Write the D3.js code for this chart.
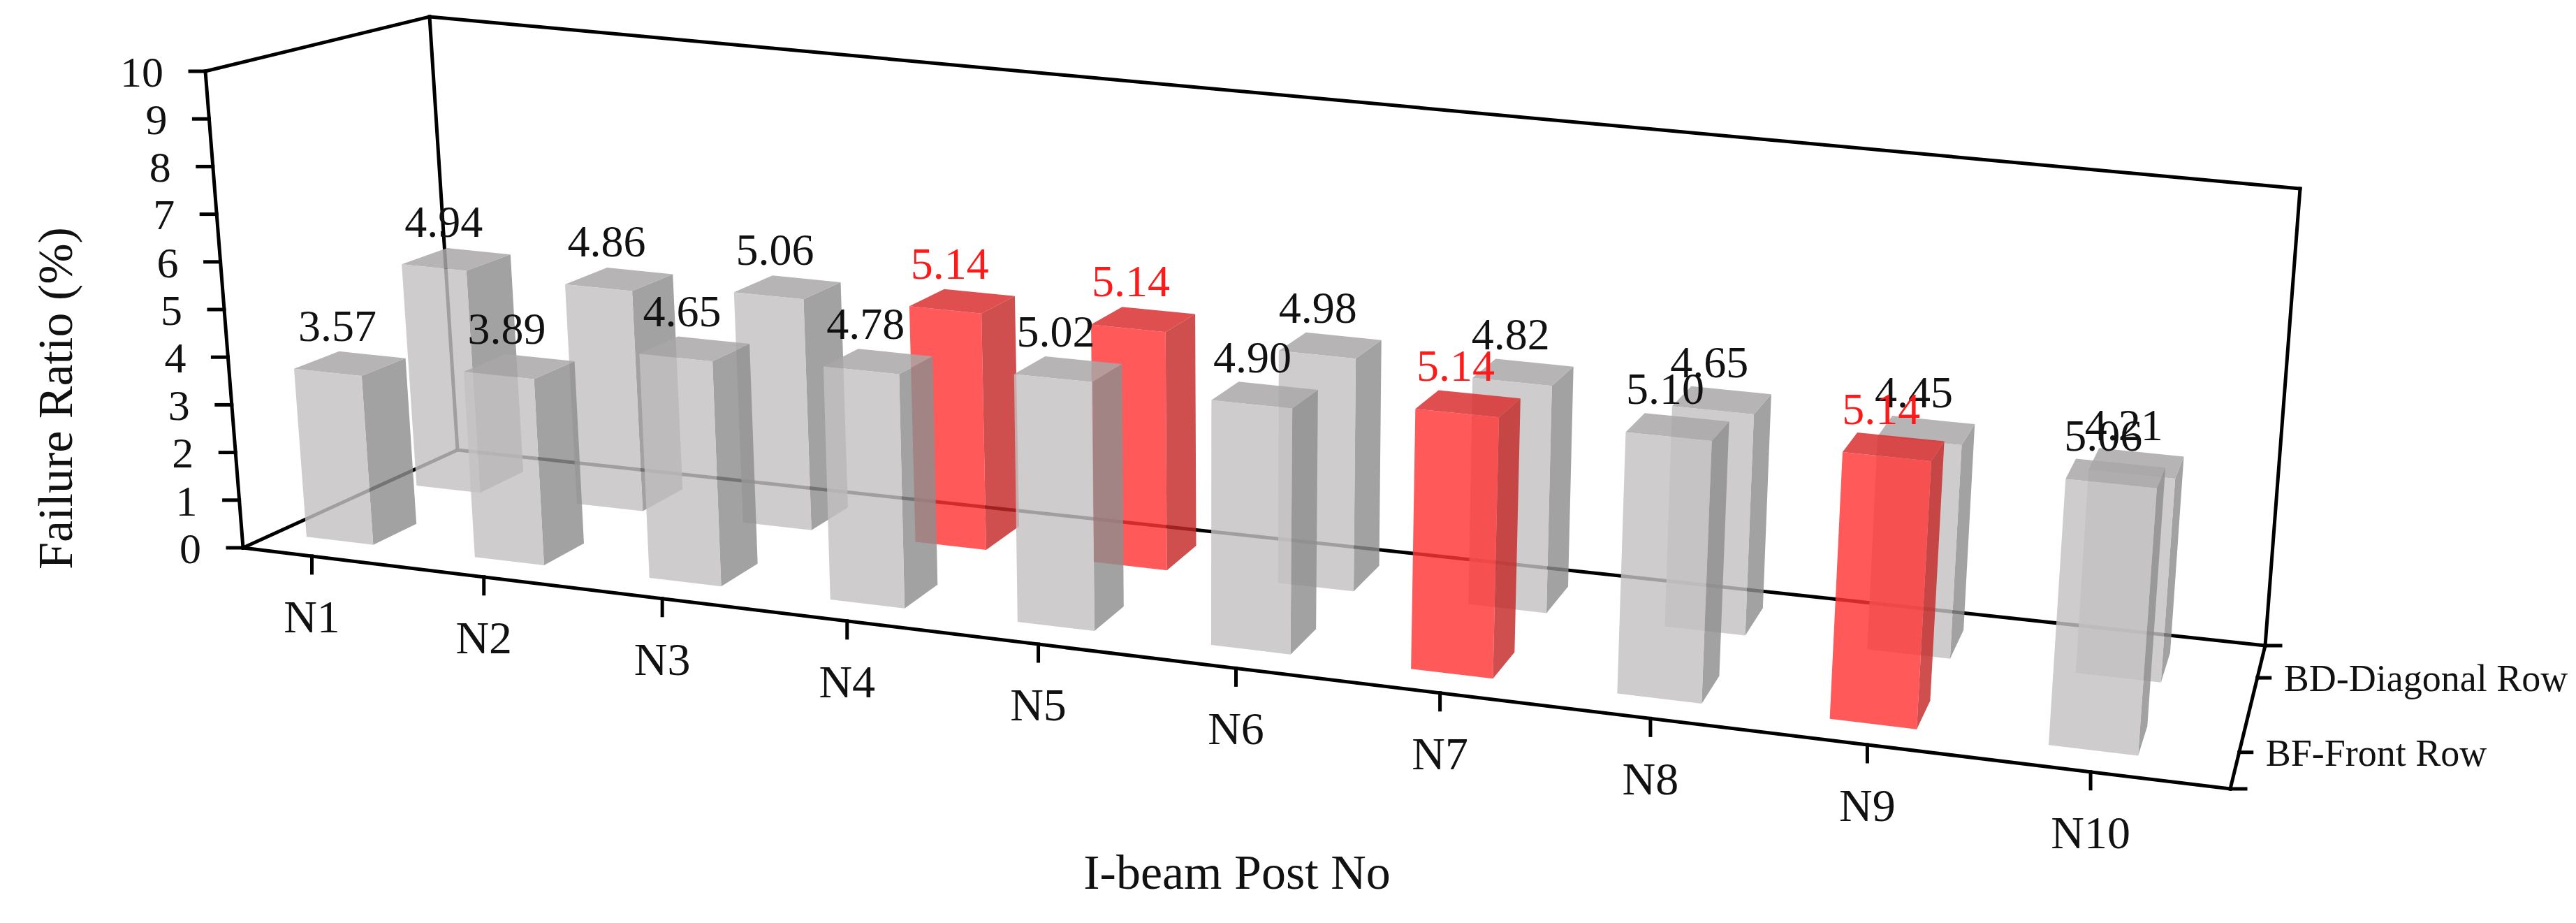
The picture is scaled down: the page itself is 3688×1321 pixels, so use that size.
<!DOCTYPE html>
<html><head><meta charset="utf-8">
<script src="https://cdn.jsdelivr.net/npm/d3@7"></script>
<style>body{margin:0;background:#fff}svg{display:block}text{font-family:"Liberation Serif","Times New Roman",serif;fill:#111}</style>
</head><body><svg id="c" width="3688" height="1321"></svg>
<script>
const categories = ["N1","N2","N3","N4","N5","N6","N7","N8","N9","N10"];
const rows = ["BF-Front Row","BD-Diagonal Row"];
const frontValues = [3.57,3.89,4.65,4.78,5.02,4.90,5.14,5.10,5.14,5.06];
const backValues  = [4.94,4.86,5.06,5.14,5.14,4.98,4.82,4.65,4.45,4.21];
const frontLabels = ["3.57","3.89","4.65","4.78","5.02","4.90","5.14","5.10","5.14","5.06"];
const backLabels  = ["4.94","4.86","5.06","5.14","5.14","4.98","4.82","4.65","4.45","4.21"];
const frontHighlight = [false,false,false,false,false,false,true,false,true,false];
const backHighlight  = [false,false,false,true,true,false,false,false,false,false];
const yTicks = [0,1,2,3,4,5,6,7,8,9,10];

const svg = d3.select("#c");
const FL=[348,784], FR=[3193,1129], BL=[655,644], BR=[3243,924];
const VFL=[-5.4,-68.2], VFR=[6,-78], VBL=[-4,-62], VBR=[5,-65.4];
const yScale = d3.scaleLinear().domain([0,10]).range([0,10]);
const cat = d3.scalePoint().domain(categories).range([0.041,0.939]);
const rowZ = d3.scaleOrdinal().domain(rows).range([[0.15,0.36],[0.67,0.88]]);
const warp = u => u - 0.162*u*(1-u);
function bil(A,B,C,D,t,z){
  return [0,1].map(k => A[k]*(1-t)*(1-z)+B[k]*t*(1-z)+C[k]*(1-t)*z+D[k]*t*z);
}
function P(u,z,v){
  const t = warp(u);
  const b = bil(FL,FR,BL,BR,t,z), w = bil(VFL,VFR,VBL,VBR,t,z);
  const y = yScale(v);
  return [b[0]+w[0]*y, b[1]+w[1]*y];
}
const line = d3.line();
const poly = pts => line(pts)+"Z";
function seg(g,a,b,w){ g.append("path").attr("d",line([a,b])).attr("stroke","#000").attr("stroke-width",w||5).attr("fill","none").attr("stroke-linecap","square"); }

const gBack = svg.append("g");
seg(gBack,P(0,1,0),P(0,1,10));
seg(gBack,P(0,1,10),P(1,1,10));
seg(gBack,P(1,1,10),P(1,1,0));
seg(gBack,P(0,1,0),P(1,1,0));
seg(gBack,P(0,0,0),P(0,1,0));
seg(gBack,P(0,0,10),P(0,1,10));
seg(gBack,P(0,0,0),P(0,0,10));
yTicks.forEach(v=>{
  const p=P(0,0,v);
  seg(gBack,[p[0]-22,p[1]],p,5);
  svg.append("text").attr("x",p[0]-60).attr("y",p[1]).attr("dy","0.35em").attr("text-anchor","end").attr("font-size",62).text(v);
});

const colors = {
  grey:{front:"#c3c1c1",side:"#8f8d8d",top:"#a9a7a7"},
  red:{front:"#ff3535",side:"#c42828",top:"#d93030"}
};
const bw = 0.04;
function drawRow(values,labels,hl,row){
  const [z0,z1]=rowZ(row);
  const g = svg.append("g");
  categories.forEach((c,i)=>{
    const u0=cat(c)-0.022,u1=u0+bw,v=values[i];
    const col = hl[i]?colors.red:colors.grey;
    g.append("path").attr("d",poly([P(u1,z0,0),P(u1,z1,0),P(u1,z1,v),P(u1,z0,v)])).attr("fill",col.side).attr("fill-opacity",0.82);
    g.append("path").attr("d",poly([P(u0,z0,v),P(u1,z0,v),P(u1,z1,v),P(u0,z1,v)])).attr("fill",col.top).attr("fill-opacity",0.85);
    g.append("path").attr("d",poly([P(u0,z0,0),P(u1,z0,0),P(u1,z0,v),P(u0,z0,v)])).attr("fill",col.front).attr("fill-opacity",0.82);
    const lp = P((u0+u1)/2,(z0+z1)/2,v);
    svg.append("text").attr("x",lp[0]-18).attr("y",lp[1]-55).attr("dy","0.35em").attr("text-anchor","middle")
      .attr("font-size",64).style("fill",hl[i]?"#ff1a1a":"#111").text(labels[i]);
  });
}
drawRow(backValues,backLabels,backHighlight,rows[1]);
drawRow(frontValues,frontLabels,frontHighlight,rows[0]);

const gF = svg.append("g");
seg(gF,P(0,0,0),P(1,0,0));
seg(gF,P(1,0,0),P(1,1,0));
categories.forEach(c=>{
  const p=P(cat(c),0,0);
  seg(gF,p,[p[0],p[1]+24],5);
  svg.append("text").attr("x",p[0]).attr("y",p[1]+86).attr("dy","0.35em").attr("text-anchor","middle").attr("font-size",66).text(c);
});
[0,1].forEach(z=>{const p=P(1,z,0); seg(gF,p,[p[0]+22,p[1]],5);});
rows.forEach(r=>{
  const [z0,z1]=rowZ(r); const p=P(1,(z0+z1)/2,0);
  seg(gF,p,[p[0]+18,p[1]],5);
  svg.append("text").attr("x",p[0]+38).attr("y",p[1]).attr("dy","0.35em").attr("font-size",54).text(r);
});
svg.append("text").attr("transform","translate(78,570) rotate(-90)").attr("text-anchor","middle").attr("dy","0.35em").attr("font-size",70).text("Failure Ratio (%)");
svg.append("text").attr("x",1771).attr("y",1247).attr("text-anchor","middle").attr("dy","0.35em").attr("font-size",70).text("I-beam Post No");
</script></body></html>
